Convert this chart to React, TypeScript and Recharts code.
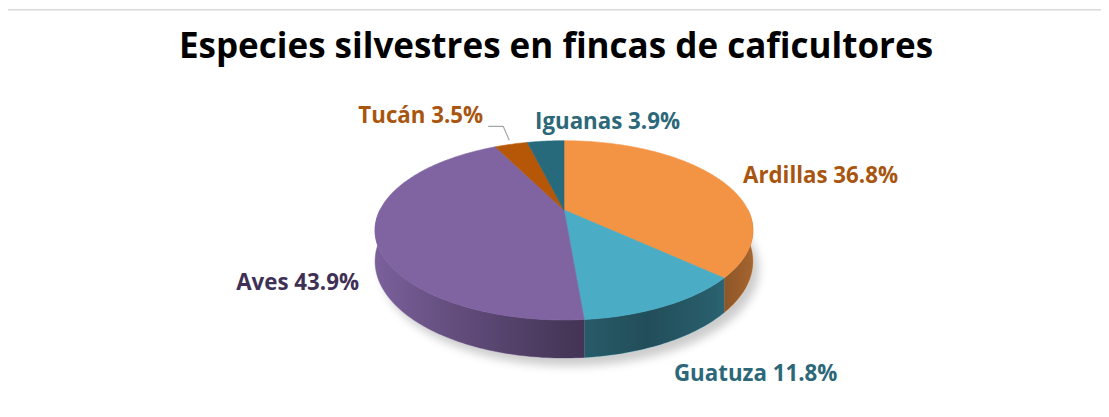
import React from 'react';
import { PieChart, Pie, Cell } from 'recharts';

const categories = ['Ardillas', 'Guatuza', 'Aves', 'Tucán', 'Iguanas'];
const percentages = [36.8, 11.8, 43.9, 3.5, 3.9];
const percentLabels = ['36.8%', '11.8%', '43.9%', '3.5%', '3.9%'];
const title = 'Especies silvestres en fincas de caficultores';

const data = categories.map((name, i) => ({ name, value: percentages[i], pct: percentLabels[i] }));

const TOP_COLORS = ['#F39445', '#4BACC6', '#8064A2', '#B65708', '#276A7C'];
const TEXT_COLORS = ['#A8560F', '#2C6879', '#3F3156', '#A8560F', '#2C6879'];

const W = 1109;
const H = 417;
const CX = 564;
const CY = 210;
const RX = 184;
const RY = 85;
const PERSP = 0.227;
const DEPTH = 29.4;
const FONT = '"Open Sans", Lato, sans-serif';

const LABEL_LAYOUT: Record<string, { dx: number; dy: number; anchor: 'start' | 'end'; line?: boolean }> = {
  Ardillas: { dx: 24.6, dy: 4.3, anchor: 'start' },
  Guatuza: { dx: 8.2, dy: 75, anchor: 'start' },
  Aves: { dx: -16.3, dy: 55.4, anchor: 'end' },
  'Tucán': { dx: -28, dy: -21.3, anchor: 'end', line: true },
  Iguanas: { dx: -10.6, dy: -12.1, anchor: 'start' },
};

function project(cx: number, cy: number, angleDeg: number, bottom: boolean): [number, number] {
  const a = (angleDeg * Math.PI) / 180;
  const s = Math.sin(a);
  const c = Math.cos(a);
  const k = 1 / (1 + PERSP * s);
  return [cx + RX * c * k, cy - RY * s * k + (bottom ? DEPTH * k : 0)];
}

function arcPoints(cx: number, cy: number, a0: number, a1: number, bottom: boolean) {
  const n = Math.max(2, Math.ceil(Math.abs(a1 - a0) / 1) + 1);
  const pts: [number, number][] = [];
  for (let i = 0; i < n; i++) {
    pts.push(project(cx, cy, a0 + ((a1 - a0) * i) / (n - 1), bottom));
  }
  return pts;
}

const toPath = (pts: [number, number][]) =>
  pts.map((p, i) => `${i === 0 ? 'M' : 'L'}${p[0].toFixed(2)},${p[1].toFixed(2)}`).join(' ');

const renderSide = (p: any) => {
  const { startAngle, endAngle, cx, cy, index } = p;
  const lo = Math.min(startAngle, endAngle);
  const hi = Math.max(startAngle, endAngle);
  const segs: [number, number][] = [];
  for (const [f0, f1] of [[-180, 0], [180, 360], [-540, -360]]) {
    const a0 = Math.max(lo, f0);
    const a1 = Math.min(hi, f1);
    if (a1 > a0) segs.push([a0, a1]);
  }
  return (
    <g key={`side-${index}`}>
      {segs.map(([a0, a1], j) => {
        const top = arcPoints(cx, cy, a1, a0, false);
        const bot = arcPoints(cx, cy, a0, a1, true);
        const d = toPath([...top, ...bot]) + ' Z';
        return (
          <g key={j}>
            <path d={d} fill={TOP_COLORS[index]} stroke={TOP_COLORS[index]} strokeWidth={0.5} />
            <path d={d} fill="url(#sideShade)" stroke="none" />
          </g>
        );
      })}
    </g>
  );
};

const renderTop = (p: any) => {
  const { startAngle, endAngle, cx, cy, index } = p;
  const pts = [[cx, cy] as [number, number], ...arcPoints(cx, cy, startAngle, endAngle, false)];
  return (
    <path
      key={`top-${index}`}
      d={toPath(pts) + ' Z'}
      fill={TOP_COLORS[index]}
      stroke={TOP_COLORS[index]}
      strokeWidth={0.6}
      strokeLinejoin="round"
    />
  );
};

const renderText = (p: any) => {
  const { midAngle, cx, cy, index, payload } = p;
  const name = payload?.name ?? categories[index];
  const lay = LABEL_LAYOUT[name];
  const [ax, ay] = project(cx, cy, midAngle, false);
  return (
    <text
      key={`txt-${index}`}
      x={ax + lay.dx}
      y={ay + lay.dy}
      textAnchor={lay.anchor}
      fill={TEXT_COLORS[index]}
      fontFamily={FONT}
      fontWeight={700}
      fontSize={22.3}
    >
      {`${name} ${payload?.pct ?? percentLabels[index]}`}
    </text>
  );
};

const renderLine = (p: any) => {
  const { midAngle, cx, cy, index, payload } = p;
  const name = payload?.name ?? categories[index];
  const lay = LABEL_LAYOUT[name];
  if (!lay.line) return <g key={`ln-${index}`} />;
  const [ax, ay] = project(cx, cy, midAngle, false);
  const pts: [number, number][] = [
    [ax - 2, ay - 4],
    [ax - 8, ay - 18],
    [ax - 23, ay - 18],
  ];
  return <path key={`ln-${index}`} d={toPath(pts)} fill="none" stroke="#A6A6A6" strokeWidth={1.2} />;
};

const shadowPath = toPath(arcPoints(CX + 6, CY + 8, 0, 360, true)) + ' Z';

export default function App() {
  return (
    <div style={{ margin: -8, width: W, height: H, background: '#fff', overflow: 'hidden' }}>
      <PieChart width={W} height={H} margin={{ top: 0, right: 0, bottom: 0, left: 0 }}>
        <defs>
          <linearGradient id="sideShade" gradientUnits="userSpaceOnUse" x1={375} y1={0} x2={753} y2={0}>
            <stop offset="0" stopColor="#000" stopOpacity={0.04} />
            <stop offset="0.2" stopColor="#000" stopOpacity={0.22} />
            <stop offset="0.5" stopColor="#000" stopOpacity={0.45} />
            <stop offset="0.72" stopColor="#000" stopOpacity={0.55} />
            <stop offset="0.9" stopColor="#000" stopOpacity={0.45} />
            <stop offset="1" stopColor="#000" stopOpacity={0.32} />
          </linearGradient>
          <filter id="softShadow" x="-20%" y="-20%" width="140%" height="140%">
            <feGaussianBlur stdDeviation="5" />
          </filter>
        </defs>
        <rect x={7.25} y={9.75} width={W + 20} height={H + 20} fill="#fff" stroke="#D9D9D9" strokeWidth={1.5} />
        <text x={556} y={58} textAnchor="middle" fontFamily={FONT} fontWeight={700} fontSize={35} fill="#000">
          {title}
        </text>
        <path d={shadowPath} fill="#000" opacity={0.2} filter="url(#softShadow)" />
        <Pie
          data={data}
          dataKey="value"
          nameKey="name"
          cx={CX}
          cy={CY}
          outerRadius={RX}
          startAngle={90}
          endAngle={-270}
          isAnimationActive={false}
          stroke="none"
          label={renderSide}
          labelLine={false}
        >
          {data.map((d) => (
            <Cell key={d.name} fill="none" stroke="none" />
          ))}
        </Pie>
        <Pie
          data={data}
          dataKey="value"
          nameKey="name"
          cx={CX}
          cy={CY}
          outerRadius={RX}
          startAngle={90}
          endAngle={-270}
          isAnimationActive={false}
          stroke="none"
          label={renderTop}
          labelLine={false}
        >
          {data.map((d) => (
            <Cell key={d.name} fill="none" stroke="none" />
          ))}
        </Pie>
        <Pie
          data={data}
          dataKey="value"
          nameKey="name"
          cx={CX}
          cy={CY}
          outerRadius={RX}
          startAngle={90}
          endAngle={-270}
          isAnimationActive={false}
          stroke="none"
          label={renderText}
          labelLine={renderLine}
        >
          {data.map((d) => (
            <Cell key={d.name} fill="none" stroke="none" />
          ))}
        </Pie>
      </PieChart>
    </div>
  );
}
